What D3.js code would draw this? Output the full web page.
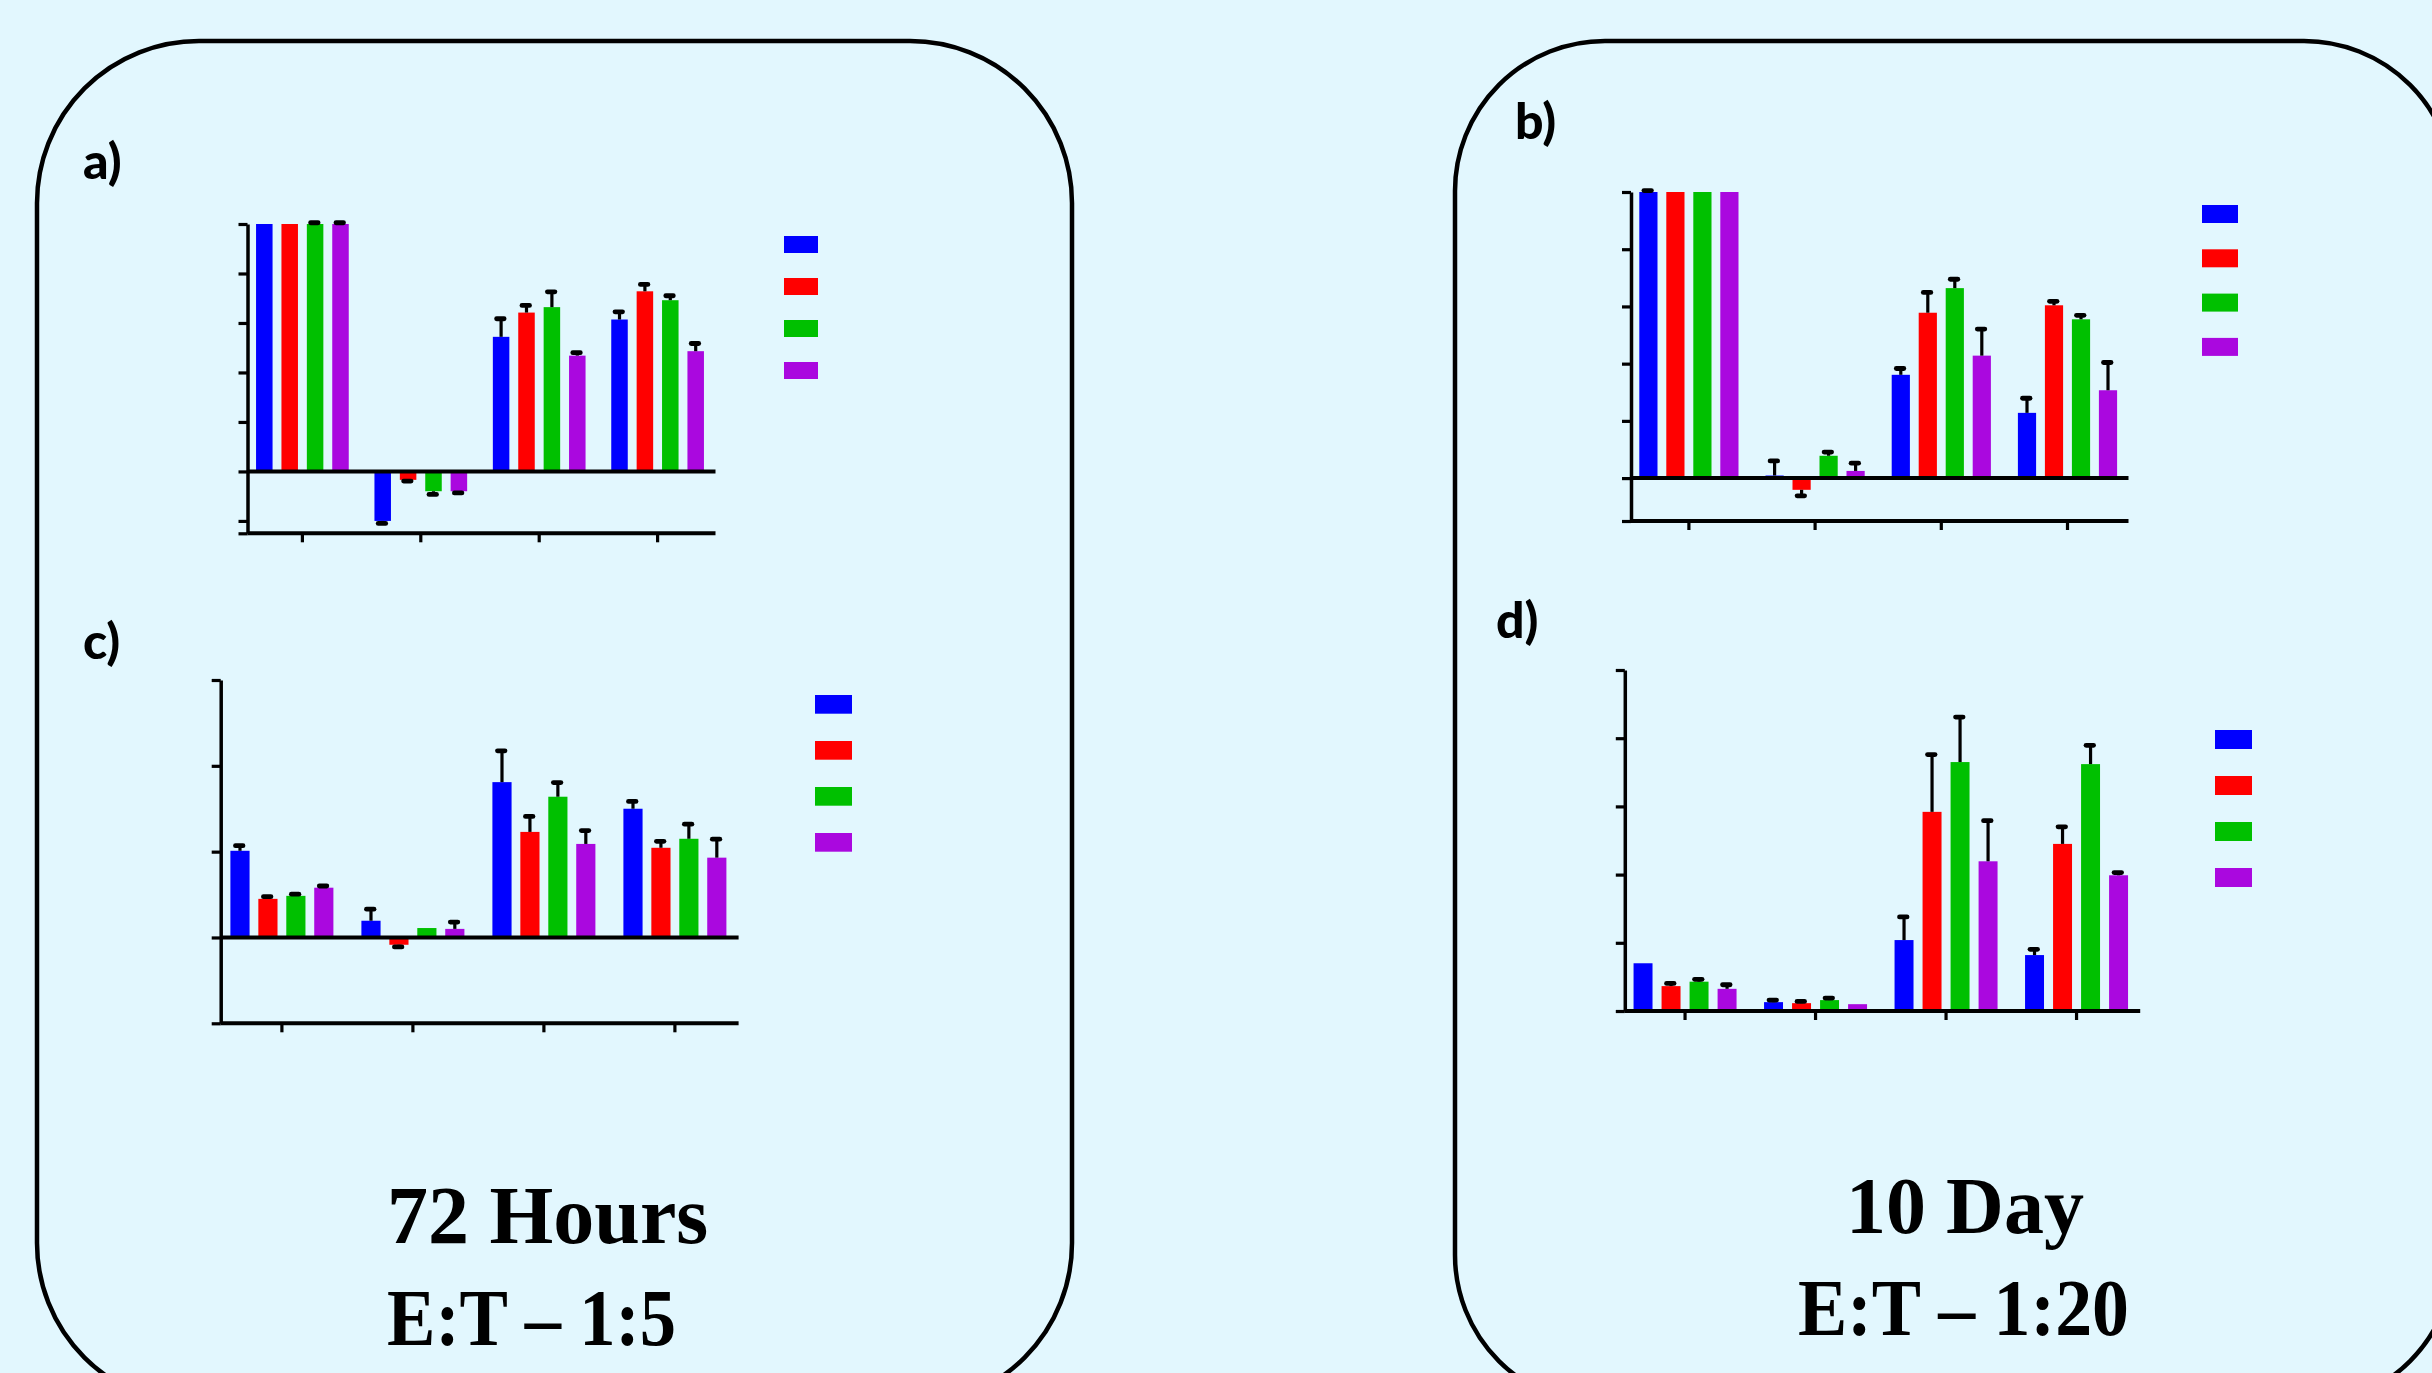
<!DOCTYPE html>
<html>
<head>
<meta charset="utf-8">
<script src="https://cdn.jsdelivr.net/npm/d3@7"></script>
<style>
  html, body { margin: 0; padding: 0; background: #E2F7FE; overflow: hidden; }
  svg { display: block; }
</style>
</head>
<body>
<svg id="chart" width="2432" height="1373"></svg>
<script>
// ---------------- DATA ----------------
const groups = ["G1", "G2", "G3", "G4"];
const series = ["S1", "S2", "S3", "S4"];
const seriesColors = ["#0000FF", "#FF0000", "#00C000", "#AA08DF"];

// panel a) 72 h, values per group [S1,S2,S3,S4]
const aValues = [[100, 100, 100, 100], [-20, -3.4, -8, -8], [54.4, 64.2, 66.4, 46.8], [61.4, 72.8, 69.2, 48.6]];
const aErrors = [[0, 0, 0.5, 0.5], [1, 0.5, 1.3, 0.7], [7.3, 2.9, 6.2, 1.2], [3.1, 2.8, 1.8, 3.1]];
const aTicks = [-25, -20, 0, 20, 40, 60, 80, 100];

// panel b) 10 day
const bValues = [[100, 100, 100, 100], [0.9, -4.1, 7.8, 2.5], [36.1, 57.8, 66.4, 42.8], [22.8, 60.4, 55.5, 30.7]];
const bErrors = [[0.5, 0, 0, 0], [5.1, 2.1, 1.3, 2.7], [2.2, 7.1, 3.1, 9.3], [5.1, 1.4, 1.4, 9.7]];
const bTicks = [-15, 0, 20, 40, 60, 80, 100];

// panel c) 72 h
const cValues = [[20.2, 9.0, 9.7, 11.6], [3.9, -1.7, 2.2, 2.0], [36.2, 24.6, 32.8, 21.8], [30.0, 20.9, 23.0, 18.6]];
const cErrors = [[1.2, 0.5, 0.4, 0.4], [2.7, 0.5, 0, 1.6], [7.3, 3.6, 3.3, 3.1], [1.7, 1.5, 3.4, 4.3]];
const cTicks = [-20, 0, 20, 40, 60];

// panel d) 10 day
const dValues = [[14.0, 7.3, 8.6, 6.5], [2.6, 2.3, 3.2, 2.0], [20.8, 58.4, 73.0, 43.9], [16.4, 49.0, 72.4, 39.8]];
const dErrors = [[0, 0.8, 0.7, 1.2], [0.6, 0.5, 0.6, 0], [6.8, 16.8, 13.2, 11.9], [1.7, 5.0, 5.5, 0.8]];
const dTicks = [0, 20, 40, 60, 80, 100];

const panelLabels = ["a)", "b)", "c)", "d)"];
const titleLeft = ["72 Hours", "E:T \u2013 1:5"];
const titleRight = ["10 Day", "E:T \u2013 1:20"];

// ---------------- LAYOUT ----------------
const svg = d3.select("#chart");
const INK = "#000";

function roundedBox(x0, y0, x1, y1, r) {
  const p = d3.path();
  p.moveTo(x0 + r, y0);
  p.lineTo(x1 - r, y0);
  p.arcTo(x1, y0, x1, y0 + r, r);
  p.lineTo(x1, y1 - r);
  p.arcTo(x1, y1, x1 - r, y1, r);
  p.lineTo(x0 + r, y1);
  p.arcTo(x0, y1, x0, y1 - r, r);
  p.lineTo(x0, y0 + r);
  p.arcTo(x0, y0, x0 + r, y0, r);
  p.closePath();
  return p.toString();
}

svg.append("path").attr("d", roundedBox(37, 41, 1072, 1405, 162))
  .attr("fill", "none").attr("stroke", INK).attr("stroke-width", 4.5);
svg.append("path").attr("d", roundedBox(1455, 41, 2454, 1405, 150))
  .attr("fill", "none").attr("stroke", INK).attr("stroke-width", 4.5);

const panels = [
  { values: aValues, errors: aErrors, ticks: aTicks, label: panelLabels[0],
    yDomain: [-25, 100], yRange: [533.3, 224], band: [243.2, 716.8], axisX: [247.5, 715.5],
    groupW: 92.7, pInner: 0.35, lab: [83, 179],
    legend: { x: 784, y: 236, w: 34, h: 17, dy: 42 } },
  { values: bValues, errors: bErrors, ticks: bTicks, label: panelLabels[1],
    yDomain: [-15, 100], yRange: [521, 192], band: [1625.8, 2130.6], axisX: [1631, 2128.5],
    groupW: 99.2, pInner: 0.326, lab: [1515, 139],
    legend: { x: 2202, y: 205, w: 36, h: 18, dy: 44.3 } },
  { values: cValues, errors: cErrors, ticks: cTicks, label: panelLabels[2],
    yDomain: [-20, 60], yRange: [1023.3, 680], band: [216.4, 740.4], axisX: [220.7, 738.6],
    groupW: 103, pInner: 0.314, lab: [83, 659],
    legend: { x: 815, y: 695, w: 37, h: 18.7, dy: 46 } },
  { values: dValues, errors: dErrors, ticks: dTicks, label: panelLabels[3],
    yDomain: [0, 100], yRange: [1011, 670], band: [1619.8, 2141.8], axisX: [1624.8, 2140.2],
    groupW: 103, pInner: 0.323, lab: [1496, 638],
    legend: { x: 2215, y: 730, w: 37, h: 19, dy: 46 } }
];

panels.forEach(P => {
  const g = svg.append("g");
  const y = d3.scaleLinear().domain(P.yDomain).range(P.yRange);
  const x0 = d3.scaleBand().domain(groups).range(P.band).padding(0);
  const x1 = d3.scaleBand().domain(series).range([-P.groupW / 2, P.groupW / 2])
    .paddingInner(P.pInner).paddingOuter(0);
  const color = d3.scaleOrdinal().domain(series).range(seriesColors);

  const rows = [];
  groups.forEach((gk, gi) => series.forEach((sk, si) => {
    rows.push({ g: gk, s: sk, v: P.values[gi][si], e: P.errors[gi][si] });
  }));

  const cx = d => x0(d.g) + x0.bandwidth() / 2 + x1(d.s);

  // bars
  g.selectAll("rect.bar").data(rows).join("rect").attr("class", "bar")
    .attr("x", d => cx(d))
    .attr("width", x1.bandwidth())
    .attr("y", d => Math.min(y(d.v), y(0)))
    .attr("height", d => Math.abs(y(d.v) - y(0)))
    .attr("fill", d => color(d.s));

  // error bars
  const eb = rows.filter(d => d.e > 0);
  const tipY = d => y(d.v >= 0 ? d.v + d.e : d.v - d.e);
  const midX = d => cx(d) + x1.bandwidth() / 2;
  g.selectAll("line.err").data(eb).join("line").attr("class", "err")
    .attr("x1", midX).attr("x2", midX)
    .attr("y1", d => y(d.v)).attr("y2", tipY)
    .attr("stroke", INK).attr("stroke-width", 3.2);
  g.selectAll("line.cap").data(eb).join("line").attr("class", "cap")
    .attr("x1", d => midX(d) - 4.5).attr("x2", d => midX(d) + 3)
    .attr("y1", tipY).attr("y2", tipY)
    .attr("stroke", INK).attr("stroke-width", 4.8).attr("stroke-linecap", "round");

  // y axis with ticks
  const yAxis = d3.axisLeft(y).tickValues(P.ticks).tickSize(9).tickSizeOuter(0).tickFormat("");
  const ya = g.append("g").attr("transform", `translate(${P.axisX[0]},0)`).call(yAxis);
  ya.select(".domain").attr("stroke", INK).attr("stroke-width", 3.5);
  ya.selectAll(".tick line").attr("stroke", INK).attr("stroke-width", 3.2);

  // x axis at bottom (domain min)
  const xAxis = d3.axisBottom(x0).tickSize(9).tickSizeOuter(0).tickFormat("");
  const xa = g.append("g").attr("transform", `translate(0,${y(P.yDomain[0])})`).call(xAxis);
  xa.select(".domain").remove();
  xa.selectAll(".tick line").attr("stroke", INK).attr("stroke-width", 3.2);
  g.append("line")
    .attr("x1", P.axisX[0]).attr("x2", P.axisX[1])
    .attr("y1", y(P.yDomain[0])).attr("y2", y(P.yDomain[0]))
    .attr("stroke", INK).attr("stroke-width", 4);

  // zero line
  if (P.yDomain[0] < 0) {
    g.append("line")
      .attr("x1", P.axisX[0]).attr("x2", P.axisX[1])
      .attr("y1", y(0)).attr("y2", y(0))
      .attr("stroke", INK).attr("stroke-width", 4);
  }

  // legend swatches
  g.selectAll("rect.leg").data(series).join("rect").attr("class", "leg")
    .attr("x", P.legend.x)
    .attr("y", (d, i) => P.legend.y + i * P.legend.dy)
    .attr("width", P.legend.w).attr("height", P.legend.h)
    .attr("fill", d => color(d));

  // panel label
  g.append("text").attr("x", P.lab[0]).attr("y", P.lab[1])
    .attr("font-family", "Lato, 'Open Sans', sans-serif").attr("font-weight", 900)
    .attr("font-size", 50).attr("fill", INK).text(P.label);
});

// titles
const serif = "'Liberation Serif', 'DejaVu Serif', serif";
svg.append("text").attr("x", 387).attr("y", 1243).attr("font-family", serif)
  .attr("font-weight", 700).attr("font-size", 82).attr("fill", INK).text(titleLeft[0]);
svg.append("text").attr("x", 387).attr("y", 1345).attr("font-family", serif)
  .attr("font-weight", 700).attr("font-size", 80)
  .attr("textLength", 289).attr("lengthAdjust", "spacingAndGlyphs")
  .attr("fill", INK).text(titleLeft[1]);
svg.append("text").attr("x", 1965).attr("y", 1233).attr("text-anchor", "middle").attr("font-family", serif)
  .attr("font-weight", 700).attr("font-size", 80).attr("fill", INK).text(titleRight[0]);
svg.append("text").attr("x", 1798).attr("y", 1335).attr("font-family", serif)
  .attr("font-weight", 700).attr("font-size", 80)
  .attr("textLength", 331).attr("lengthAdjust", "spacingAndGlyphs")
  .attr("fill", INK).text(titleRight[1]);
</script>
</body>
</html>
